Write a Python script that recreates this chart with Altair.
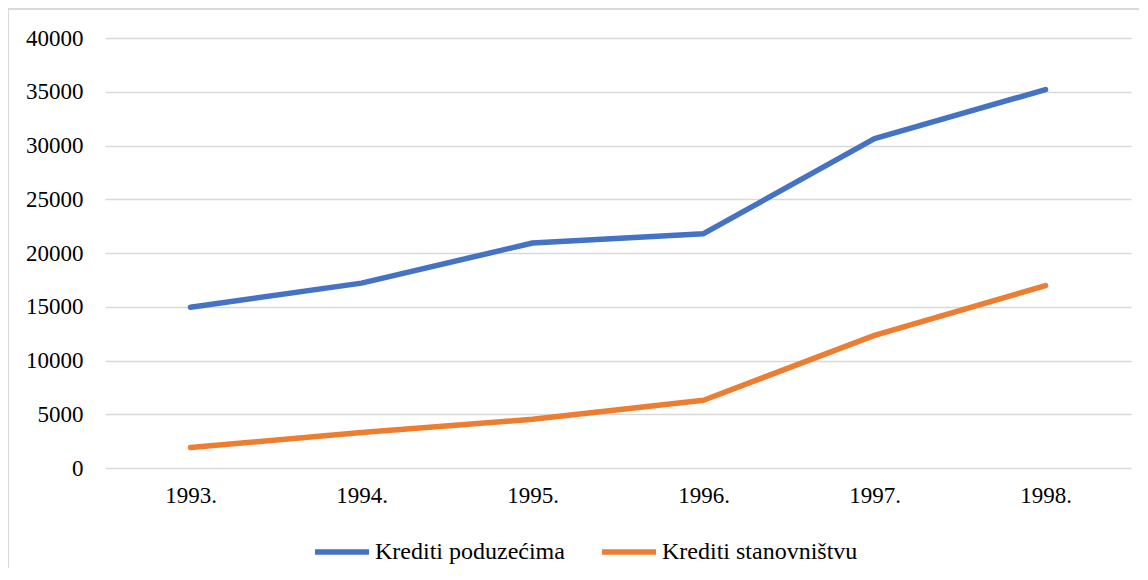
import altair as alt
import pandas as pd

years = ["1993.", "1994.", "1995.", "1996.", "1997.", "1998."]
series_names = ["Krediti poduzećima", "Krediti stanovništvu"]
poduzecima = [14950, 17200, 20930, 21800, 30640, 35200]
stanovnistvu = [1900, 3300, 4530, 6300, 12340, 16970]
colors = ["#4472C4", "#ED7D31"]

rows = []
for y, v in zip(years, poduzecima):
    rows.append({"godina": y, "serija": series_names[0], "vrijednost": v})
for y, v in zip(years, stanovnistvu):
    rows.append({"godina": y, "serija": series_names[1], "vrijednost": v})
df = pd.DataFrame(rows)

FONT = "Liberation Serif"

lines = alt.Chart(df).mark_line(strokeWidth=5.5, strokeCap="round", strokeJoin="round").encode(
    x=alt.X("godina:N", sort=years, scale=alt.Scale(padding=0.5),
            axis=alt.Axis(title=None, labelAngle=0, domain=False, ticks=False,
                          labelPadding=16, labelFontSize=23, labelFont=FONT,
                          labelColor="#000000", grid=False)),
    y=alt.Y("vrijednost:Q", scale=alt.Scale(domain=[0, 40000], nice=False),
            axis=alt.Axis(title=None, values=list(range(0, 40001, 5000)), format="d",
                          domain=False, ticks=False, labelPadding=22, labelFontSize=23,
                          labelFont=FONT, labelColor="#000000", grid=True,
                          gridColor="#d9d9d9", gridWidth=1.5)),
    color=alt.Color("serija:N", sort=series_names,
                    scale=alt.Scale(domain=series_names, range=colors),
                    legend=alt.Legend(title=None, orient="none", direction="horizontal",
                                      legendX=207, legendY=484,
                                      symbolType="stroke", symbolSize=2916,
                                      symbolStrokeWidth=5.5, labelOffset=3,
                                      columnPadding=26, labelFont=FONT, labelLimit=0,
                                      labelFontSize=24, labelColor="#000000")),
)

frame_df = pd.DataFrame({"k": [0]})
frame = alt.Chart(frame_df).mark_rect(fill=None, stroke="#d9d9d9", strokeWidth=2).encode(
    x=alt.value(-97), x2=alt.value(1300), y=alt.value(-29), y2=alt.value(700)
)

chart = alt.layer(frame, lines).properties(
    width=1026, height=430,
    padding={"left": 97, "top": 30, "right": 8, "bottom": 100},
    autosize=alt.AutoSizeParams(type="none"),
).configure_view(stroke=None)

chart.save("out.html", embed_options={"renderer": "svg", "actions": False})
